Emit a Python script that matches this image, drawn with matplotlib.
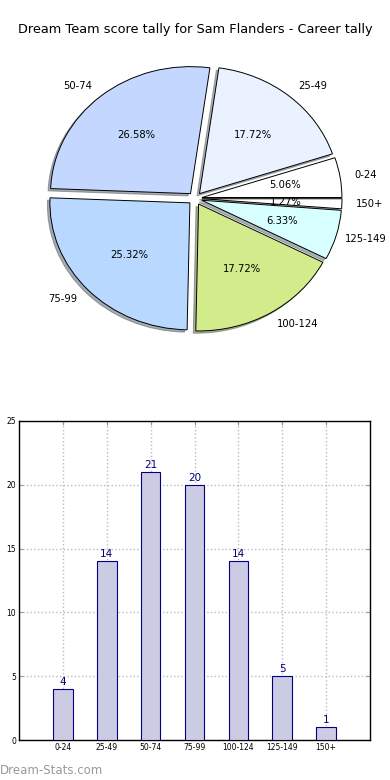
import matplotlib
matplotlib.use("Agg")
import matplotlib.pyplot as plt
import numpy as np

# ---- data ----
pie_labels = ["0-24", "25-49", "50-74", "75-99", "100-124", "125-149", "150+"]
pie_values = [4, 14, 21, 20, 14, 5, 1]
pie_colors = ["#ffffff", "#eaf1ff", "#c4d8ff", "#b8d8ff", "#d2ec8c", "#d8ffff", "#ffffff"]

bar_categories = ["0-24", "25-49", "50-74", "75-99", "100-124", "125-149", "150+"]
bar_values = [4, 14, 21, 20, 14, 5, 1]
y_ticks = [0, 5, 10, 15, 20, 25]

title = "Dream Team score tally for Sam Flanders - Career tally"

W, H = 390, 780
fig = plt.figure(figsize=(W / 100, H / 100), dpi=100)
fig.patch.set_facecolor("white")

fig.text(0.5, 1 - 30 / H, title, ha="center", va="center", fontsize=9.3)

# ---- pie ----
cx, cy, rx, ry = 195.0, 198.5, 140.0, 127.0
top_px, bot_px = 50.0, 350.0
axp = fig.add_axes([0, (H - bot_px) / H, 1, (bot_px - top_px) / H])
wedges, texts, autotexts = axp.pie(
    pie_values, labels=pie_labels, colors=pie_colors, startangle=0,
    explode=[0.05] * len(pie_values),
    shadow=dict(ox=-0.013, oy=-0.013, shade=0.6), autopct="%.2f%%",
    pctdistance=0.6, labeldistance=1.1,
    wedgeprops=dict(edgecolor="black", linewidth=0.7),
    textprops=dict(fontsize=7.2),
)
# keep the rightmost label inside the canvas
lx, ly = texts[5].get_position()
texts[5].set_position((lx - 0.035, ly))
axp.set_aspect("auto")
axp.set_xlim(-cx / rx, (W - cx) / rx)
axp.set_ylim(-(bot_px - cy) / ry, (cy - top_px) / ry)
axp.axis("off")

# ---- bar chart ----
left, right, top, bottom = 19.0, 370.0, 421.0, 740.0
axb = fig.add_axes([left / W, (H - bottom) / H, (right - left) / W, (bottom - top) / H])
x = np.arange(len(bar_categories))
bars = axb.bar(x, bar_values, width=0.45, color="#cbcbe3", edgecolor="#000080",
               linewidth=0.8, zorder=3)
for xi, v in zip(x, bar_values):
    axb.text(xi, v + 0.15, str(v), ha="center", va="bottom", fontsize=7.5,
             color="#000080", zorder=4)
axb.set_xlim(-1, 7)
axb.set_ylim(0, 25)
axb.set_xticks(x)
axb.set_xticklabels(bar_categories, fontsize=5.5)
axb.set_yticks(y_ticks)
axb.set_yticklabels([str(t) for t in y_ticks], fontsize=5.5)
axb.grid(True, linestyle=":", color="#bbbbbb", linewidth=1.0, zorder=0)
axb.set_axisbelow(True)
axb.tick_params(direction="in", top=True, right=True, length=3, color="#999999", pad=2)
for s in axb.spines.values():
    s.set_linewidth(1.0)
    s.set_color("black")

fig.text(0.0, 1 - 770 / H, "Dream-Stats.com", ha="left", va="center",
         fontsize=8.5, color="#999999")

fig.savefig("out.png", dpi=100)
